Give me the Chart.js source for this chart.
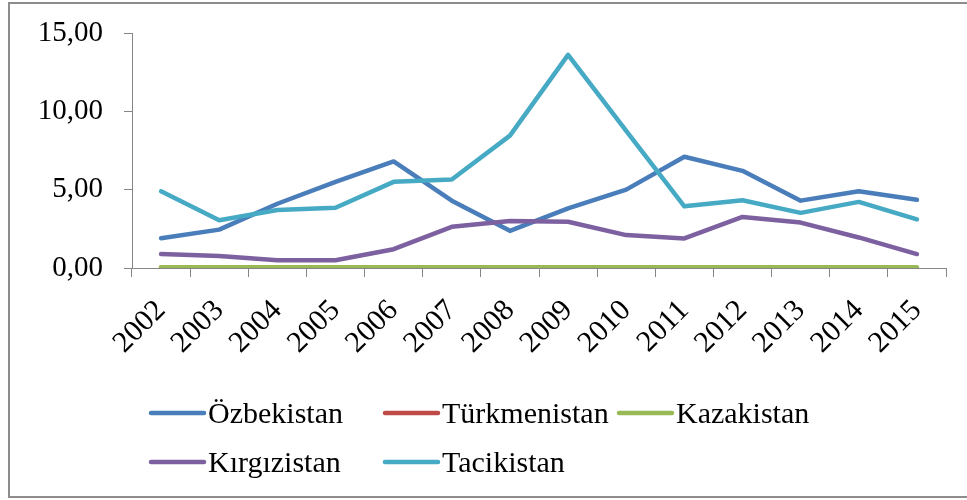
<!DOCTYPE html>
<html><head><meta charset="utf-8">
<script src="https://cdn.jsdelivr.net/npm/chart.js@4"></script>
<style>
html,body{margin:0;padding:0;background:#fff;}
#wrap{position:relative;width:967px;height:500px;overflow:hidden;}
#frame{position:absolute;left:8px;top:2px;width:1000px;height:496px;border:2px solid #8c8c8c;box-sizing:border-box;}
canvas{position:absolute;left:0;top:0;}
</style></head><body>
<div id="wrap"><div id="frame"></div><canvas id="c" width="967" height="500"></canvas></div>
<script>
const years = ['2002','2003','2004','2005','2006','2007','2008','2009','2010','2011','2012','2013','2014','2015'];
const seriesNames = ['Özbekistan','Türkmenistan','Kazakistan','Kırgızistan','Tacikistan'];
const ozbekistan   = [1.90, 2.45, 4.10, 5.50, 6.80, 4.30, 2.37, 3.80, 5.00, 7.10, 6.20, 4.30, 4.90, 4.35];
const turkmenistan = [0.03, 0.03, 0.03, 0.03, 0.03, 0.03, 0.03, 0.03, 0.03, null, null, null, null, null];
const kazakistan   = [0.05, 0.05, 0.05, 0.05, 0.05, 0.05, 0.05, 0.05, 0.05, 0.05, 0.05, 0.05, 0.05, 0.05];
const kirgizistan  = [0.89, 0.76, 0.50, 0.49, 1.20, 2.63, 3.00, 2.95, 2.10, 1.89, 3.26, 2.90, 1.95, 0.89];
const tacikistan   = [4.90, 3.05, 3.70, 3.85, 5.50, 5.65, 8.45, 13.60, 8.75, 3.94, 4.32, 3.52, 4.22, 3.10];
const yTickValues  = [0, 5, 10, 15];

const colors = ['#4A7EBB', '#BE4B48', '#98B954', '#7D60A0', '#46AAC5'];
const allData = [ozbekistan, turkmenistan, kazakistan, kirgizistan, tacikistan];
const FONT = '"Liberation Serif", "Times New Roman", serif';

const gridLegend = {
  id: 'gridLegend',
  afterDraw(chart) {
    const ctx = chart.ctx;
    const cols = 3, colW = 234, x0 = 149, y0 = 413, rowH = 49, lineLen = 57;
    chart.data.datasets.forEach((ds, i) => {
      const x = x0 + (i % cols) * colW;
      const y = y0 + Math.floor(i / cols) * rowH;
      ctx.save();
      ctx.strokeStyle = ds.borderColor;
      ctx.lineWidth = 4.5;
      ctx.lineCap = 'round';
      ctx.beginPath();
      ctx.moveTo(x + 2, y);
      ctx.lineTo(x + lineLen - 2, y);
      ctx.stroke();
      ctx.fillStyle = '#000';
      ctx.font = '30px ' + FONT;
      ctx.textAlign = 'left';
      ctx.textBaseline = 'alphabetic';
      ctx.fillText(ds.label, x + lineLen + 2, y + 10);
      ctx.restore();
    });
  }
};

new Chart(document.getElementById('c'), {
  type: 'line',
  data: {
    labels: years,
    datasets: seriesNames.map((name, i) => ({
      label: name,
      data: allData[i],
      borderColor: colors[i],
      backgroundColor: colors[i],
      borderWidth: 4.5,
      pointRadius: 0,
      pointHoverRadius: 0,
      tension: 0,
      borderCapStyle: 'round',
      borderJoinStyle: 'round',
      fill: false,
      order: 4 - i
    }))
  },
  options: {
    responsive: false,
    animation: false,
    events: [],
    layout: { padding: { top: 33, right: 21, bottom: 0, left: 0 } },
    plugins: { legend: { display: false }, tooltip: { enabled: false } },
    scales: {
      x: {
        type: 'category',
        offset: true,
        grid: { offset: true, drawOnChartArea: false, drawTicks: true, tickLength: 9, color: '#868686' },
        border: { display: true, color: '#868686', width: 1 },
        ticks: {
          autoSkip: false, maxRotation: 45, minRotation: 45,
          color: '#000', padding: 16,
          font: { family: FONT, size: 30 }
        },
        afterFit(scale) { scale.height = 232; scale.paddingLeft = 0; scale.paddingRight = 0; }
      },
      y: {
        min: 0, max: 15,
        afterBuildTicks(scale) { scale.ticks = yTickValues.map(v => ({ value: v })); },
        grid: { drawOnChartArea: false, drawTicks: true, tickLength: 8, color: '#868686' },
        border: { display: true, color: '#868686', width: 1 },
        ticks: {
          color: '#000', padding: 21,
          font: { family: FONT, size: 29 },
          callback: v => v.toFixed(2).replace('.', ',')
        },
        afterFit(scale) { scale.width = 132; scale.paddingTop = 0; scale.paddingBottom = 0; }
      }
    }
  },
  plugins: [gridLegend]
});
</script>
</body></html>
